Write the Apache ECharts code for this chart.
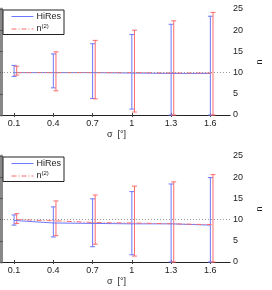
<!DOCTYPE html>
<html><head><meta charset="utf-8">
<script src="https://cdn.jsdelivr.net/npm/echarts@6/dist/echarts.min.js"></script>
<style>html,body{margin:0;padding:0;background:#fff}#c{width:272px;height:290px}</style>
</head><body><div id="c"></div>
<script>
const sigma = [0.1, 0.4, 0.7, 1.0, 1.3, 1.6];
const xTickLabels = ['0.1', '0.4', '0.7', '1', '1.3', '1.6'];
const yTicks = [0, 5, 10, 15, 20, 25];
const refLevel = 10;
// top panel
const hiresMeanA = [10.0, 10.0, 10.0, 9.9, 9.8, 9.8];
const hiresLowA = [9.1, 6.4, 3.9, 1.4, 0, 0];
const hiresHighA = [11.7, 14.4, 16.8, 19.0, 21.4, 23.3];
const n2MeanA = [10.0, 10.0, 10.0, 10.0, 9.9, 9.9];
const n2LowA = [9.4, 5.7, 3.8, 0.7, 0, 0];
const n2HighA = [11.5, 14.9, 17.6, 20.0, 22.2, 24.2];
// bottom panel
const hiresMeanB = [9.8, 9.2, 9.1, 9.0, 9.0, 8.7];
const hiresLowB = [8.7, 5.9, 3.6, 1.7, 0, 0];
const hiresHighB = [11.1, 13.0, 14.9, 16.6, 18.4, 19.9];
const n2MeanB = [10.0, 9.7, 9.3, 9.2, 9.0, 8.8];
const n2LowB = [9.1, 6.2, 4.2, 1.4, 0, 0];
const n2HighB = [11.4, 14.4, 15.8, 17.9, 18.9, 20.6];

const BLUE = '#6a78ff';
const RED = '#ff6b6b';
const FONT = 'Liberation Sans';
const dx = 0.02;

function errSeries(name, xs, lo, hi, color, gi) {
  return {
    type: 'custom', name: name, xAxisIndex: gi * 2, yAxisIndex: gi * 2,
    data: xs.map((x, i) => [x, lo[i], hi[i]]),
    renderItem: function (params, api) {
      const a = api.coord([api.value(0), api.value(1)]);
      const b = api.coord([api.value(0), api.value(2)]);
      const w = 2.5;
      const st = { stroke: color, lineWidth: 1 };
      return { type: 'group', children: [
        { type: 'line', shape: { x1: a[0], y1: a[1], x2: b[0], y2: b[1] }, style: st },
        { type: 'line', shape: { x1: a[0] - w, y1: a[1], x2: a[0] + w, y2: a[1] }, style: st },
        { type: 'line', shape: { x1: b[0] - w, y1: b[1], x2: b[0] + w, y2: b[1] }, style: st }
      ]};
    },
    silent: true, z: 3
  };
}
function meanSeries(name, xs, ys, color, type, gi) {
  return {
    type: 'line', name: name, xAxisIndex: gi * 2, yAxisIndex: gi * 2,
    data: xs.map((x, i) => [x, ys[i]]), symbol: 'none',
    lineStyle: { color: color, width: 1, type: type }, itemStyle: { color: color },
    z: 4, silent: true
  };
}
function refSeries(gi) {
  return {
    type: 'line', xAxisIndex: gi * 2, yAxisIndex: gi * 2, data: [],
    markLine: { silent: true, symbol: 'none', label: { show: false },
      lineStyle: { color: '#999', type: [1, 2], width: 1 },
      data: [{ yAxis: refLevel }] }, z: 2
  };
}
const grids = [
  { left: 1, right: 33, top: 9, height: 106 },
  { left: 1, right: 33, top: 156, height: 106 }
];
const xAxes = [], yAxes = [];
[0, 1].forEach(gi => {
  xAxes.push({
    type: 'value', gridIndex: gi, min: 0, max: 1.75, position: 'bottom',
    name: 'σ  [°]', nameLocation: 'middle', nameGap: 15,
    nameTextStyle: { fontFamily: FONT, fontSize: 9, color: '#222', padding: [0, 0, 0, 2] },
    axisLine: { lineStyle: { color: '#444', width: 1 } },
    axisTick: { inside: true, length: 2, customValues: sigma, lineStyle: { color: '#444' } },
    axisLabel: { customValues: sigma, formatter: v => xTickLabels[sigma.findIndex(s => Math.abs(s - v) < 1e-6)] || '',
      fontFamily: FONT, fontSize: 9, color: '#222', margin: 4 },
    splitLine: { show: false }
  });
  xAxes.push({
    type: 'value', gridIndex: gi, min: 0, max: 1.75, position: 'top',
    axisLine: { lineStyle: { color: '#222', width: 1 } },
    axisTick: { inside: true, length: 2, customValues: sigma, lineStyle: { color: '#444' } },
    axisLabel: { show: false }, splitLine: { show: false }
  });
  yAxes.push({
    type: 'value', gridIndex: gi, min: 0, max: 25, interval: 5, position: 'right',
    name: 'n', nameLocation: 'middle', nameGap: 25, nameRotate: 90,
    nameTextStyle: { fontFamily: FONT, fontSize: 9, color: '#222' },
    axisLine: { show: true, lineStyle: { color: '#777', width: 1.5 } },
    axisTick: { show: true, inside: true, length: 2, lineStyle: { color: '#555' } },
    axisLabel: { fontFamily: FONT, fontSize: 9, color: '#222', margin: 3 },
    splitLine: { show: false }
  });
  yAxes.push({
    type: 'value', gridIndex: gi, min: 0, max: 25, interval: 5, position: 'left',
    axisLine: { show: true, lineStyle: { color: '#888', width: 3 } },
    axisTick: { show: true, inside: true, length: 2, lineStyle: { color: '#555' } },
    axisLabel: { show: false }, splitLine: { show: false }
  });
});
const series = [];
[[hiresMeanA, hiresLowA, hiresHighA, n2MeanA, n2LowA, n2HighA],
 [hiresMeanB, hiresLowB, hiresHighB, n2MeanB, n2LowB, n2HighB]].forEach((d, gi) => {
  series.push(refSeries(gi));
  series.push(errSeries('HiResErr', sigma, d[1], d[2], BLUE, gi));
  series.push(errSeries('n2Err', sigma.map(s => s + dx), d[4], d[5], RED, gi));
  series.push(meanSeries('HiRes', sigma, d[0], BLUE, 'solid', gi));
  series.push(meanSeries('n2', sigma.map(s => s + dx), d[3], RED, [5, 2, 1, 2], gi));
});
function legend(top) {
  return {
    data: ['HiRes', 'n2'], orient: 'vertical', left: 3, top: top,
    itemWidth: 22, itemHeight: 6, itemGap: 2,
    padding: [2, 3, 1, 8], borderColor: '#222', borderWidth: 1, backgroundColor: '#fff',
    selectedMode: false,
    itemStyle: { opacity: 0 },
    lineStyle: { width: 1 },
    textStyle: { fontFamily: FONT, fontSize: 9, color: '#222', padding: [0, 0, 0, -2],
      rich: { b: { fontFamily: FONT, fontSize: 9, color: '#222' },
              s: { fontFamily: FONT, fontSize: 6, color: '#222', verticalAlign: 'bottom', padding: [0, 0, 6, 0] } } },
    formatter: n => n === 'n2' ? '{b|n}{s|(2)}' : n
  };
}
const chart = echarts.init(document.getElementById('c'), null, { renderer: 'canvas' });
chart.setOption({
  animation: false,
  backgroundColor: '#fff',
  grid: grids, xAxis: xAxes, yAxis: yAxes,
  legend: [legend(10), legend(157)],
  series: series
});
</script></body></html>
